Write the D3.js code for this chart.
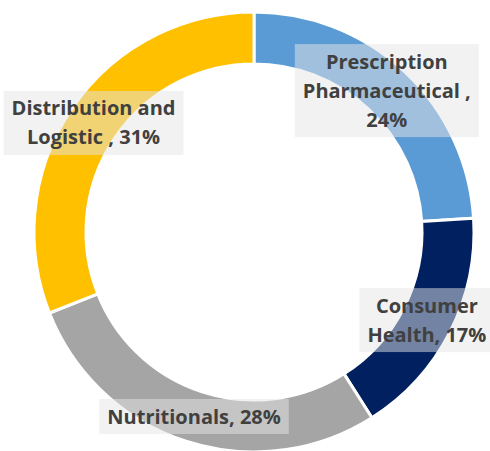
<!DOCTYPE html>
<html lang="en">
<head>
    <meta charset="UTF-8">
    <title>Donut</title>
    <script src="https://cdn.jsdelivr.net/npm/d3@7"></script>
    <style>
        body { margin: 0; background: #fff; }
    </style>
</head>
<body>
<script type="application/javascript">

    let w = 490, h = 451;

    // data
    let categories = ["Prescription Pharmaceutical", "Consumer Health", "Nutritionals", "Distribution and Logistic"];
    let values = [24, 17, 28, 31];
    let labelLines = [
        ["Prescription", "Pharmaceutical ,", "24%"],
        ["Consumer", "Health, 17%"],
        ["Nutritionals, 28%"],
        ["Distribution and", "Logistic , 31%"]
    ];
    let colorList = ["#5b9bd5", "#002060", "#a5a5a5", "#ffc000"];

    let cx = 254, cy = 232;
    let outerR = 220, innerR = 168;
    let lineH = 29;

    let color = d3.scaleOrdinal()
        .domain(categories)
        .range(colorList);

    let pie = d3.pie()
        .sort(null)
        .value(function(d) { return d.value; });

    let arcs = pie(categories.map(function(c, i) {
        return { name: c, value: values[i], lines: labelLines[i] };
    }));

    let arc = d3.arc()
        .innerRadius(innerR)
        .outerRadius(outerR);

    let svg = d3.select("body")
        .append("svg")
        .attr("width", w)
        .attr("height", h);

    let g = svg.append("g")
        .attr("transform", "translate(" + cx + "," + cy + ")");

    // ring
    g.selectAll("path")
        .data(arcs)
        .enter()
        .append("path")
        .attr("d", arc)
        .attr("fill", function(d) { return color(d.data.name); })
        .attr("stroke", "#fff")
        .attr("stroke-width", 3)
        .attr("stroke-linejoin", "miter");

    // labels at the ring's centroid
    let labels = g.selectAll("g.label")
        .data(arcs)
        .enter()
        .append("g")
        .attr("class", "label")
        .attr("transform", function(d) {
            return "translate(" + arc.centroid(d) + ")";
        });

    let boxes = labels.append("rect")
        .attr("fill", "#e5e5e5")
        .attr("fill-opacity", 0.5);

    labels.each(function(d) {
        let sel = d3.select(this);
        let n = d.data.lines.length;
        let t = sel.append("text")
            .attr("text-anchor", "middle")
            .style("font-family", "'Open Sans', sans-serif")
            .style("font-weight", "bold")
            .style("font-size", "20px")
            .attr("fill", "#404040");
        t.selectAll("tspan")
            .data(d.data.lines)
            .enter()
            .append("tspan")
            .attr("x", 0)
            .attr("y", function(l, i) { return (i - (n - 1) / 2) * lineH; })
            .attr("dy", "0.35em")
            .text(function(l) { return l; });

        let bb = t.node().getBBox();
        let padX = 8, padY = 3;
        sel.select("rect")
            .attr("x", bb.x - padX)
            .attr("y", -n * lineH / 2 - padY)
            .attr("width", bb.width + 2 * padX)
            .attr("height", n * lineH + 2 * padY);
    });

</script>
</body>
</html>
